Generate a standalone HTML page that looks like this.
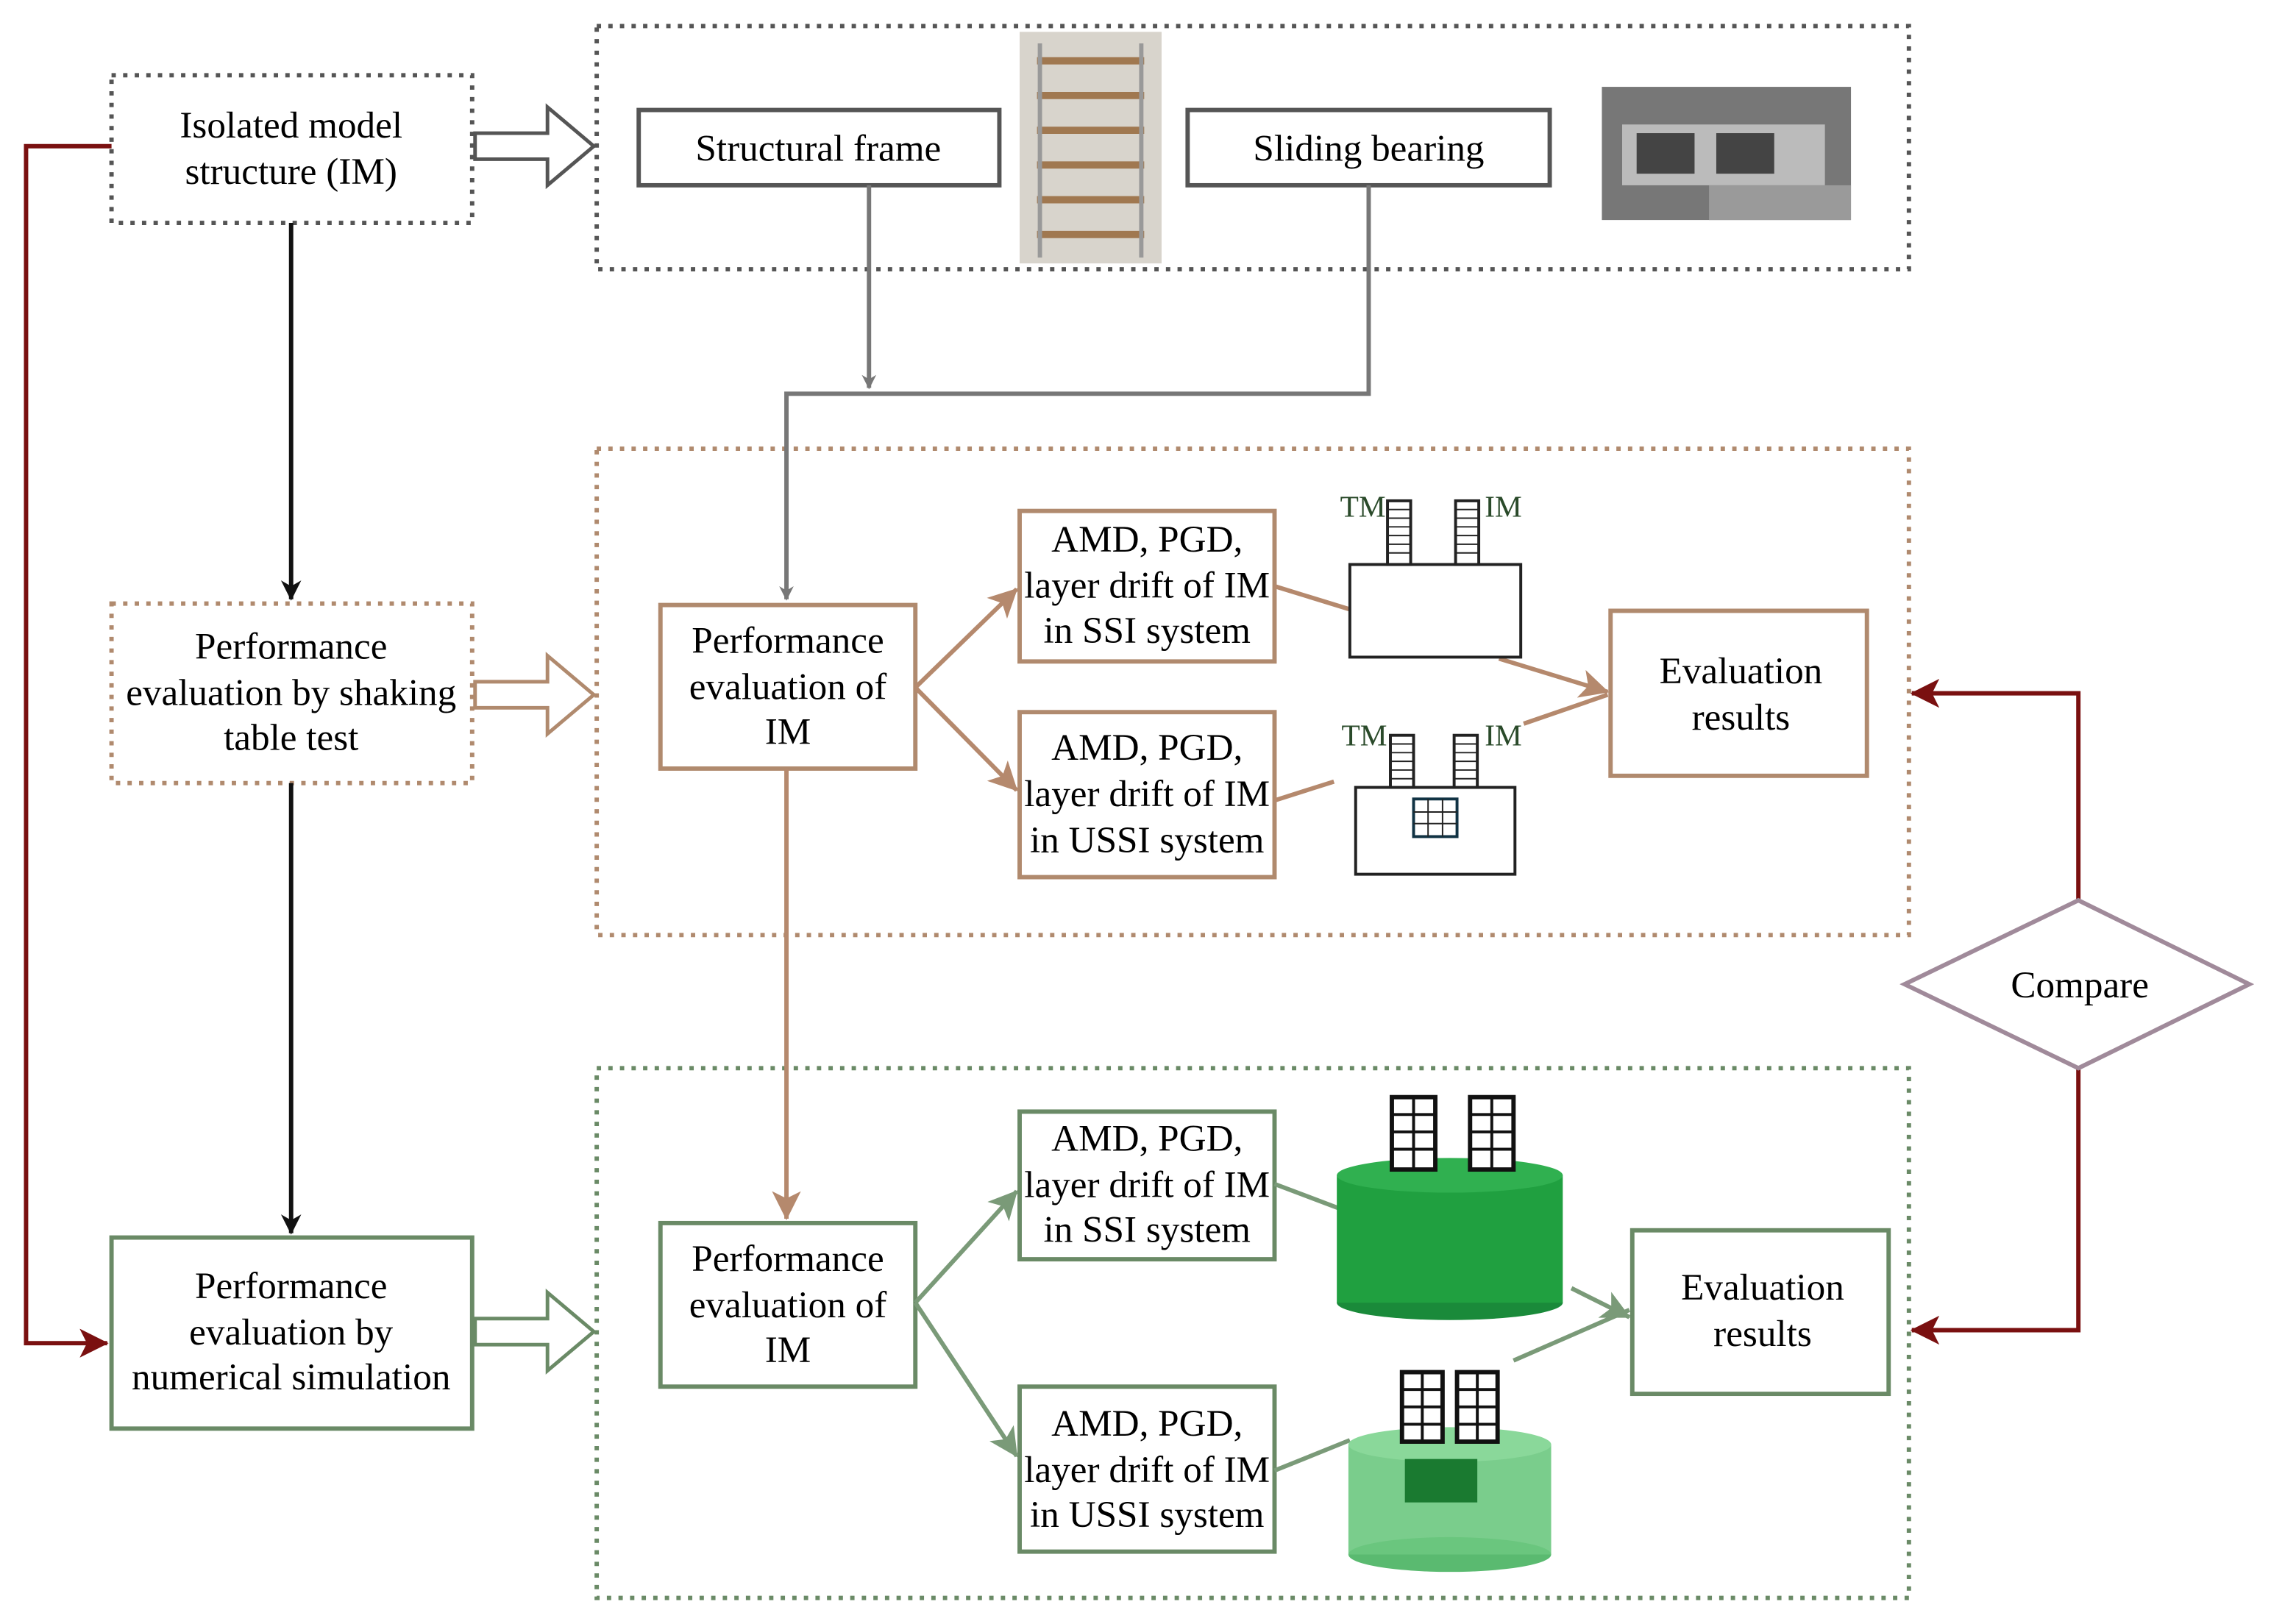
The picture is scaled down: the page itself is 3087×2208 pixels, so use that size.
<!DOCTYPE html>
<html><head><meta charset="utf-8"><style>html,body{margin:0;padding:0;background:#fff}svg{display:block}</style></head>
<body>
<svg xmlns="http://www.w3.org/2000/svg" width="3087" height="2208" viewBox="0 0 1568 1122" preserveAspectRatio="none" font-family="Liberation Serif, serif" font-size="26" text-anchor="middle">
<defs>
<marker id="ag" markerWidth="10" markerHeight="10" refX="9" refY="5" orient="auto" markerUnits="userSpaceOnUse"><path d="M0,0 L10,5 L0,10 L3,5z" fill="#777"/></marker>
<marker id="ak" markerWidth="14" markerHeight="14" refX="13" refY="7" orient="auto" markerUnits="userSpaceOnUse"><path d="M0,0 L14,7 L0,14 L4,7z" fill="#111"/></marker>
<marker id="ab" markerWidth="20" markerHeight="20" refX="19" refY="10" orient="auto" markerUnits="userSpaceOnUse"><path d="M0,0 L20,10 L0,20 L5,10z" fill="#b5896d"/></marker>
<marker id="agr" markerWidth="20" markerHeight="20" refX="19" refY="10" orient="auto" markerUnits="userSpaceOnUse"><path d="M0,0 L20,10 L0,20 L5,10z" fill="#7a9a78"/></marker>
<marker id="ar" markerWidth="20" markerHeight="20" refX="19" refY="10" orient="auto" markerUnits="userSpaceOnUse"><path d="M0,0 L20,10 L0,20 L5,10z" fill="#7a1010"/></marker>
</defs>
<rect x="412" y="18" width="906" height="168" fill="none" stroke="#555" stroke-width="3" stroke-dasharray="3,5"/>
<rect x="412" y="310" width="906" height="336" fill="none" stroke="#b08a6e" stroke-width="3" stroke-dasharray="3,5"/>
<rect x="412" y="738" width="906" height="366" fill="none" stroke="#6a8a66" stroke-width="3" stroke-dasharray="3,5"/>
<rect x="77" y="52" width="249" height="102" fill="#fff" stroke="#555" stroke-width="3" stroke-dasharray="3,5"/>
<text x="201" y="95">Isolated model</text><text x="201" y="127">structure (IM)</text>
<rect x="77" y="417" width="249" height="124" fill="#fff" stroke="#b08a6e" stroke-width="3" stroke-dasharray="3,5"/>
<text x="201" y="455">Performance</text><text x="201" y="487">evaluation by shaking</text><text x="201" y="518">table test</text>
<rect x="77" y="855" width="249" height="132" fill="#fff" stroke="#6a8a66" stroke-width="3"/>
<text x="201" y="897">Performance</text><text x="201" y="929">evaluation by</text><text x="201" y="960">numerical simulation</text>
<g fill="#fff" stroke-width="2.5">
<path d="M328,92 L378,92 L378,74 L410,101 L378,128 L378,110 L328,110z" stroke="#555"/>
<path d="M328,471 L378,471 L378,453 L410,480 L378,507 L378,489 L328,489z" stroke="#b08a6e"/>
<path d="M328,911 L378,911 L378,893 L410,920 L378,947 L378,929 L328,929z" stroke="#6a8a66"/>
</g>
<line x1="201" y1="154" x2="201" y2="414" stroke="#111" stroke-width="3" marker-end="url(#ak)"/>
<line x1="201" y1="541" x2="201" y2="852" stroke="#111" stroke-width="3" marker-end="url(#ak)"/>
<polyline points="77,101 18,101 18,928 74,928" fill="none" stroke="#7a1010" stroke-width="3" marker-end="url(#ar)"/>
<polyline points="1435,622 1435,479 1320,479" fill="none" stroke="#7a1010" stroke-width="3" marker-end="url(#ar)"/>
<polyline points="1435,738 1435,919 1320,919" fill="none" stroke="#7a1010" stroke-width="3" marker-end="url(#ar)"/>
<polygon points="1315,680 1435,622 1553,680 1435,738" fill="#fff" stroke="#a08a9a" stroke-width="3"/>
<text x="1436" y="689">Compare</text>
<rect x="441" y="76" width="249" height="52" fill="#fff" stroke="#555" stroke-width="3"/>
<text x="565" y="111">Structural frame</text>
<rect x="820" y="76" width="250" height="52" fill="#fff" stroke="#555" stroke-width="3"/>
<text x="945" y="111">Sliding bearing</text>
<rect x="704" y="22" width="98" height="160" fill="#d8d4cc"/>
<g stroke="#a07850" stroke-width="5">
<line x1="716" y1="42" x2="790" y2="42"/><line x1="716" y1="66" x2="790" y2="66"/><line x1="716" y1="90" x2="790" y2="90"/><line x1="716" y1="114" x2="790" y2="114"/><line x1="716" y1="138" x2="790" y2="138"/><line x1="716" y1="162" x2="790" y2="162"/></g>
<g stroke="#999" stroke-width="3"><line x1="718" y1="30" x2="718" y2="178"/><line x1="788" y1="30" x2="788" y2="178"/></g>
<rect x="1106" y="60" width="172" height="92" fill="#777"/>
<rect x="1120" y="86" width="140" height="42" fill="#bbb"/><rect x="1130" y="92" width="40" height="28" fill="#444"/><rect x="1185" y="92" width="40" height="28" fill="#444"/><rect x="1180" y="128" width="98" height="24" fill="#9a9a9a"/>
<line x1="600" y1="128" x2="600" y2="268" stroke="#777" stroke-width="3" marker-end="url(#ag)"/>
<polyline points="945,128 945,272 543,272 543,414" fill="none" stroke="#777" stroke-width="3" marker-end="url(#ag)"/>
<rect x="456" y="418" width="176" height="113" fill="#fff" stroke="#b08a6e" stroke-width="3"/>
<text x="544" y="451">Performance</text><text x="544" y="483">evaluation of</text><text x="544" y="514">IM</text>
<rect x="704" y="353" width="176" height="104" fill="#fff" stroke="#b08a6e" stroke-width="3"/>
<text x="792" y="381">AMD, PGD,</text><text x="792" y="413">layer drift of IM</text><text x="792" y="444">in SSI system</text>
<rect x="704" y="492" width="176" height="114" fill="#fff" stroke="#b08a6e" stroke-width="3"/>
<text x="792" y="525">AMD, PGD,</text><text x="792" y="557">layer drift of IM</text><text x="792" y="589">in USSI system</text>
<rect x="1112" y="422" width="177" height="114" fill="#fff" stroke="#b08a6e" stroke-width="3"/>
<text x="1202" y="472">Evaluation</text><text x="1202" y="504">results</text>
<g stroke="#b5896d" stroke-width="3" fill="none">
<line x1="632" y1="475" x2="702" y2="407" marker-end="url(#ab)"/>
<line x1="632" y1="475" x2="702" y2="546" marker-end="url(#ab)"/>
<line x1="880" y1="405" x2="932" y2="421"/>
<line x1="880" y1="553" x2="921" y2="540"/>
<line x1="1035" y1="455" x2="1110" y2="478" marker-end="url(#ab)"/>
<line x1="1052" y1="500" x2="1110" y2="480"/>
<line x1="543" y1="531" x2="543" y2="842" marker-end="url(#ab)"/>
</g>
<g stroke="#222" stroke-width="2" fill="#fff">
<rect x="932" y="390" width="118" height="64"/>
<rect x="958" y="346" width="16" height="44"/><rect x="1005" y="346" width="16" height="44"/>
<rect x="936" y="544" width="110" height="60"/>
<rect x="960" y="508" width="16" height="36"/><rect x="1004" y="508" width="16" height="36"/>
<rect x="976" y="552" width="30" height="26" stroke="#134"/>
</g>
<g stroke="#222" stroke-width="1">
<path d="M958,352h16M958,358h16M958,364h16M958,370h16M958,376h16M958,382h16M1005,352h16M1005,358h16M1005,364h16M1005,370h16M1005,376h16M1005,382h16M960,514h16M960,520h16M960,526h16M960,532h16M960,538h16M1004,514h16M1004,520h16M1004,526h16M1004,532h16M1004,538h16M976,561h30M976,569h30M986,552v26M996,552v26"/>
</g>
<g fill="#2a4a2a" font-size="21"><text x="941" y="357">TM</text><text x="1038" y="357">IM</text><text x="942" y="515">TM</text><text x="1038" y="515">IM</text></g>
<rect x="456" y="845" width="176" height="113" fill="#fff" stroke="#6a8a66" stroke-width="3"/>
<text x="544" y="878">Performance</text><text x="544" y="910">evaluation of</text><text x="544" y="941">IM</text>
<rect x="704" y="768" width="176" height="102" fill="#fff" stroke="#6a8a66" stroke-width="3"/>
<text x="792" y="795">AMD, PGD,</text><text x="792" y="827">layer drift of IM</text><text x="792" y="858">in SSI system</text>
<rect x="704" y="958" width="176" height="114" fill="#fff" stroke="#6a8a66" stroke-width="3"/>
<text x="792" y="992">AMD, PGD,</text><text x="792" y="1024">layer drift of IM</text><text x="792" y="1055">in USSI system</text>
<rect x="1127" y="850" width="177" height="113" fill="#fff" stroke="#6a8a66" stroke-width="3"/>
<text x="1217" y="898">Evaluation</text><text x="1217" y="930">results</text>
<g stroke="#7a9a78" stroke-width="3" fill="none">
<line x1="632" y1="900" x2="702" y2="823" marker-end="url(#agr)"/>
<line x1="632" y1="900" x2="702" y2="1006" marker-end="url(#agr)"/>
<line x1="880" y1="818" x2="925" y2="835"/>
<line x1="880" y1="1016" x2="932" y2="995"/>
<line x1="1085" y1="890" x2="1125" y2="910" marker-end="url(#agr)"/>
<line x1="1045" y1="940" x2="1125" y2="905"/>
</g>
<ellipse cx="1001" cy="900" rx="78" ry="12" fill="#1a8a3a"/>
<rect x="923" y="812" width="156" height="88" fill="#20a040"/>
<ellipse cx="1001" cy="812" rx="78" ry="12" fill="#30b050"/>
<g fill="#fff" stroke="#111" stroke-width="3"><rect x="961" y="758" width="30" height="50"/><rect x="1015" y="758" width="30" height="50"/></g>
<path d="M961,770h30M961,782h30M961,794h30M976,758v50M1015,770h30M1015,782h30M1015,794h30M1030,758v50" stroke="#111" stroke-width="2"/>
<ellipse cx="1001" cy="1074" rx="70" ry="12" fill="#5aba70"/>
<rect x="931" y="998" width="140" height="76" fill="#6cc880" opacity="0.9"/>
<ellipse cx="1001" cy="998" rx="70" ry="12" fill="#8ad89a"/>
<rect x="970" y="1008" width="50" height="30" fill="#1a7a30"/>
<g fill="#fff" stroke="#111" stroke-width="3"><rect x="968" y="948" width="28" height="48"/><rect x="1006" y="948" width="28" height="48"/></g>
<path d="M968,960h28M968,972h28M968,984h28M982,948v48M1006,960h28M1006,972h28M1006,984h28M1020,948v48" stroke="#111" stroke-width="2"/>
</svg>
</body></html>
